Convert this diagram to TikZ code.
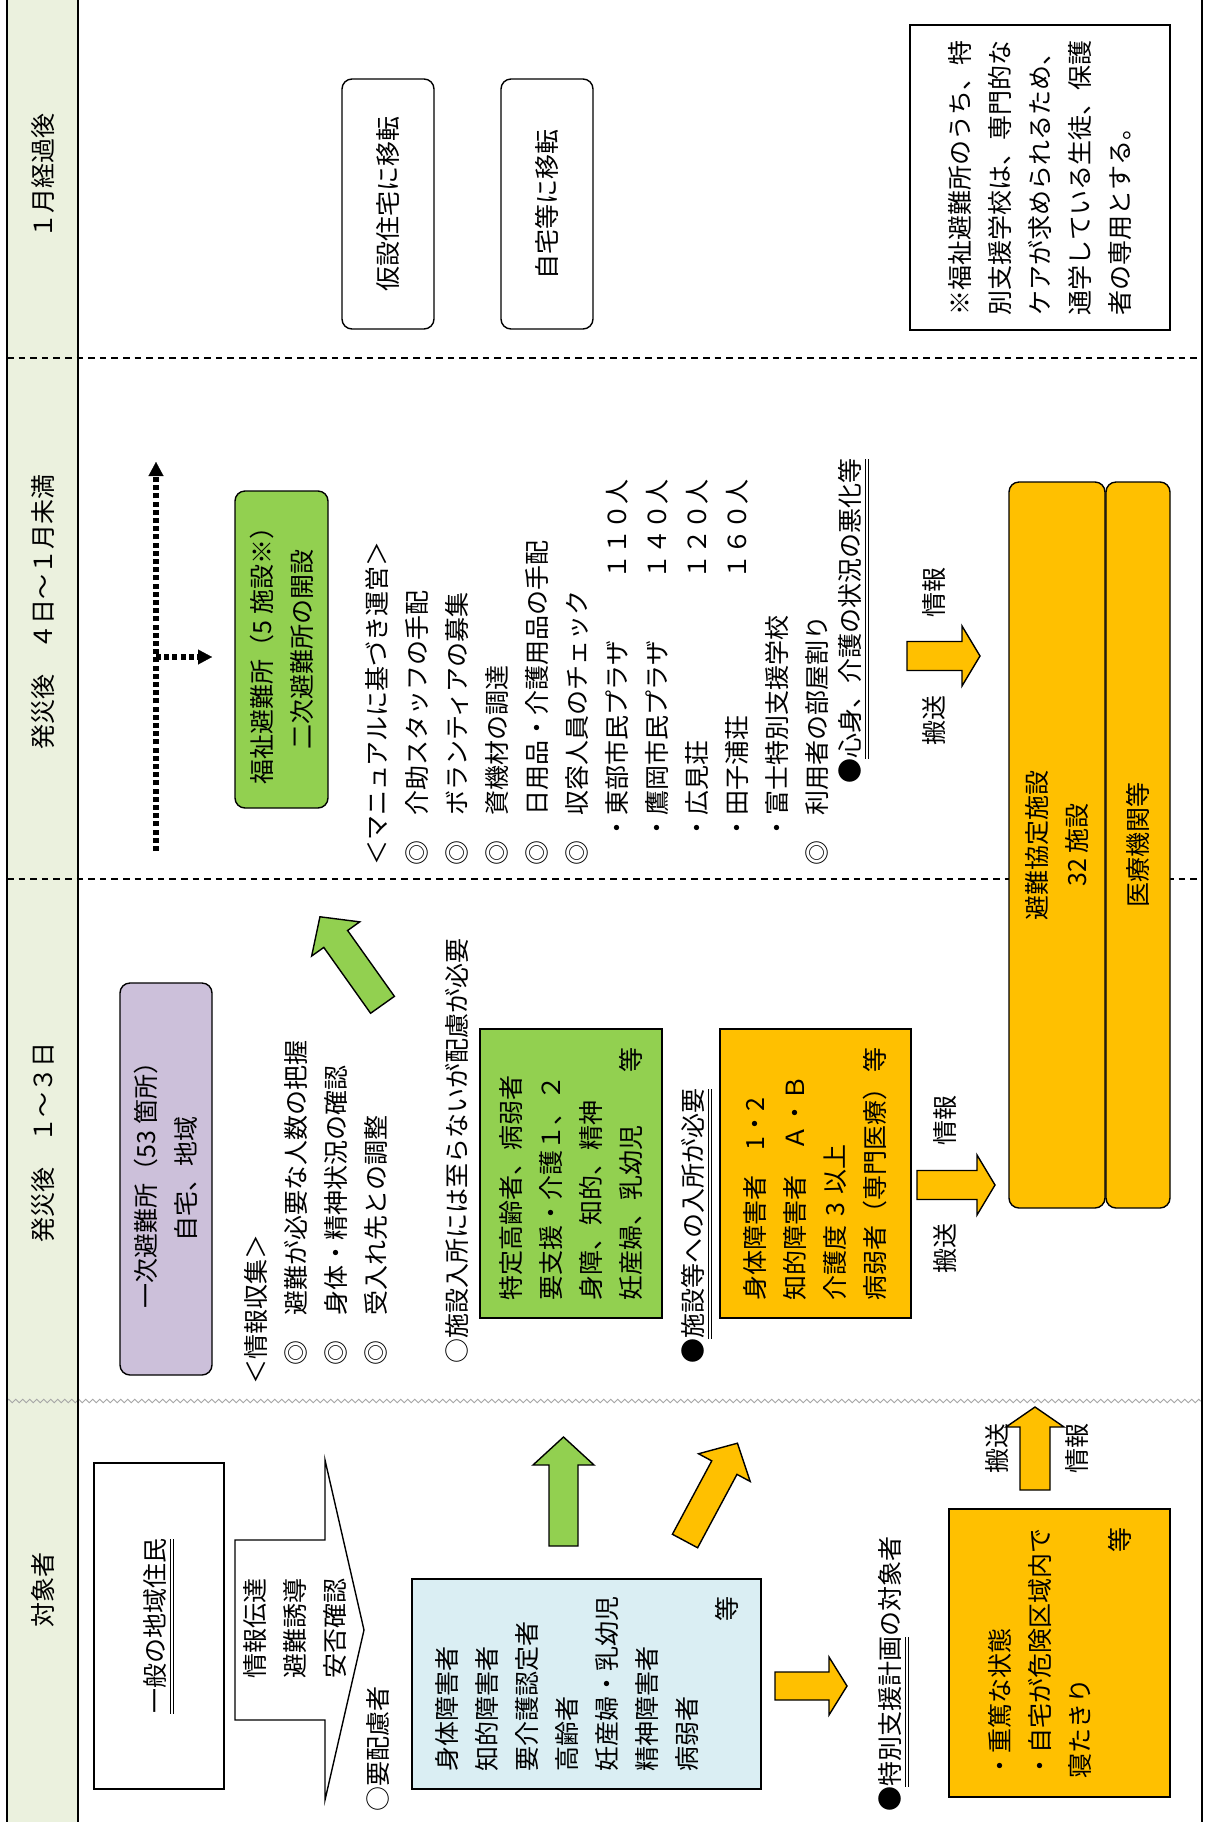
\documentclass[tikz,border=0pt]{standalone}
\usepackage{fontspec}
\setmainfont{Noto Sans CJK JP}
\usetikzlibrary{arrows.meta,decorations.pathmorphing}
\definecolor{hdr}{HTML}{EBF1DE}
\definecolor{purp}{HTML}{CCC0DA}
\definecolor{grn}{HTML}{92D050}
\definecolor{org}{HTML}{FFC000}
\definecolor{lblue}{HTML}{DAEEF3}
\newcommand{\fs}{\fontsize{12.5pt}{20pt}\selectfont}
\newcommand{\dul}[1]{\setbox0=\hbox{#1}\rlap{\vrule height -2.4pt depth 3.0pt width \wd0}\rlap{\vrule height -4.0pt depth 4.6pt width \wd0}\box0}
\newcommand{\blkarrow}[7]{%
  \begin{scope}[shift={#1}, rotate=#2]
    \draw[#7] (0,-#4) -- ({#3-#6},-#4) -- ({#3-#6},-#5) -- (#3,0) -- ({#3-#6},#5) -- ({#3-#6},#4) -- (0,#4) -- cycle;
  \end{scope}}
\tikzset{
  vt/.style={rotate=90, inner sep=0pt, font=\fs},
  bx/.style={draw=black, line width=0.7pt, rotate=90, inner sep=0pt, font=\fs},
  rbx/.style={bx, rounded corners=5pt},
  arw/.style={draw=black, line width=0.7pt, line join=miter},
  frameln/.style={line width=0.7pt},
  dashsep/.style={line width=0.7pt, dash pattern=on 3.3pt off 2.5pt},
  wavy/.style={gray!70, line width=0.45pt, decorate, decoration={zigzag, segment length=3.5pt, amplitude=0.9pt}},
  dotln/.style={line width=2.8pt, dash pattern=on 2.5pt off 1.6pt, line cap=butt},
}
\begin{document}
\begin{tikzpicture}[x=0.5pt, y=-0.5pt]
\useasboundingbox (0,0) rectangle (1205,1822);
\fill[white] (0,0) rectangle (1205,1822);
% header column and frame
\fill[hdr] (7,0) rectangle (78,1822);
\draw[dashsep] (7,358) -- (1202,358);
\draw[dashsep] (7,879) -- (1202,879);
\draw[wavy] (7,1401) -- (1202,1401);
\draw[frameln] (7,0) -- (7,1822);
\draw[frameln] (78,0) -- (78,1822);
\draw[frameln] (1202,0) -- (1202,1822);
\node[vt] (h1) at (43,176) {１月経過後};
\node[vt] (h2) at (43,612) {発災後　４日～１月未満};
\node[vt] (h3) at (43,1142) {発災後　１～３日};
\node[vt] (h4) at (43,1590) {対象者};

% ---- 対象者 section
\node[bx, fill=white, minimum width=163pt, minimum height=65pt] (gen) at (159,1626) {\dul{一般の地域住民}};
\draw[arw, fill=white] (235,1540) -- (325,1540) -- (325,1460) -- (364,1630) -- (325,1800) -- (325,1720) -- (235,1720) -- cycle;
\node[vt, align=center] (infotxt) at (295,1628) {情報伝達\\避難誘導\\安否確認};
\node[vt, anchor=west] (req) at (378,1812) {○要配慮者};
\node[bx, fill=lblue, minimum width=105pt, minimum height=174.5pt, text width=87.5pt, align=left] (blue) at (586.5,1684) {身体障害者\\知的障害者\\要介護認定者\\高齢者\\妊産婦・乳幼児\\精神障害者\\病弱者\\\makebox[\linewidth][r]{等}};
\blkarrow{(563.5,1546)}{90}{109}{14.5}{30.5}{28}{arw, fill=grn}
\blkarrow{(685,1541)}{61.8}{111}{14.3}{29.3}{27.7}{arw, fill=org}
\blkarrow{(775,1686)}{0}{72}{14}{29}{18}{arw, fill=org}
\node[vt, anchor=west] (spl) at (894,1812) {●\dul{特別支援計画}の対象者};
\node[bx, fill=org, minimum width=144pt, minimum height=110.5pt, text width=125.5pt, align=left] (heavy) at (1059.5,1653) {・重篤な状態\\・自宅が危険区域内で\\寝たきり\\\makebox[\linewidth][r]{等}};
\blkarrow{(1035,1490)}{90}{83}{15}{29}{20}{arw, fill=org}
\node[vt] (hs1) at (997,1448) {搬送};
\node[vt] (jh1) at (1077,1448) {情報};

% ---- 発災後 1~3日
\node[rbx, fill=purp, minimum width=196pt, minimum height=46pt, align=center] (prim) at (166,1179) {一次避難所（53 箇所）\\自宅、地域};
\node[vt, align=left, anchor=north west] (collect) at (244.5,1385) {＜情報収集＞\\\hspace*{9.5pt}◎　避難が必要な人数の把握\\\hspace*{9.5pt}◎　身体・精神状況の確認\\\hspace*{9.5pt}◎　受入れ先との調整};
\blkarrow{(382.5,1004.8)}{125.4}{108}{14.6}{29.5}{27.2}{arw, fill=grn}
\node[vt, anchor=west] (care) at (457,1364) {○施設入所には至らないが配慮が必要};
\node[bx, fill=grn, minimum width=144.5pt, minimum height=91pt, text width=126.5pt, align=left] (gbox) at (571,1173.5) {特定高齢者、病弱者\\要支援・介護１、２\\身障、知的、精神\\\makebox[\linewidth][l]{妊産婦、乳幼児\hfill 等}};
\node[vt, anchor=west] (fac) at (697,1364) {●\dul{施設等への入所が必要}};
\node[bx, fill=org, minimum width=144.5pt, minimum height=95.5pt, text width=126.5pt, align=left] (obox) at (815.5,1173.5) {身体障害者　1・2\\知的障害者　Ａ・Ｂ\\介護度 3 以上\\\makebox[\linewidth][l]{病弱者（専門医療）\hfill 等}};
\blkarrow{(917,1185)}{0}{78}{14.5}{30}{18}{arw, fill=org}
\node[vt] (jh2) at (945,1120) {情報};
\node[vt] (hs2) at (945,1248) {搬送};
\node[rbx, fill=org, minimum width=363pt, minimum height=48pt, align=center] (kyotei) at (1057,845) {避難協定施設\\32 施設};
\node[rbx, fill=org, minimum width=363pt, minimum height=32pt] (iryo) at (1138,845) {医療機関等};

% ---- 発災後 4日~1月未満
\coordinate (d1) at (156,851);
\coordinate (d2) at (156,462);
\coordinate (d3) at (156,657);
\coordinate (d4) at (212,657);
\draw[dotln, -{Triangle[length=7pt,width=7.5pt,line width=0.1pt]}] (d1) -- (d2);
\draw[dotln, -{Triangle[length=7pt,width=7.5pt,line width=0.1pt]}] (d3) -- (d4);
\node[rbx, fill=grn, minimum width=158.5pt, minimum height=46.5pt, align=center] (fuku) at (281.5,649.5) {福祉避難所（5 施設※）\\二次避難所の開設};
\node[vt, align=left, anchor=north west] (manual) at (365.5,866) {＜マニュアルに基づき運営＞\\◎　介助スタッフの手配\\◎　ボランティアの募集\\◎　資機材の調達\\◎　日用品・介護用品の手配\\◎　収容人員のチェック\\\hspace*{12.5pt}\makebox[130.5pt][l]{・東部市民プラザ}１１０人\\\hspace*{12.5pt}\makebox[130.5pt][l]{・鷹岡市民プラザ}１４０人\\\hspace*{12.5pt}\makebox[130.5pt][l]{・広見荘}１２０人\\\hspace*{12.5pt}\makebox[130.5pt][l]{・田子浦荘}１６０人\\\hspace*{12.5pt}・富士特別支援学校\\◎　利用者の部屋割り};
\node[vt, anchor=west] (worse) at (854,784) {●\dul{心身、介護の状況の悪化等}};
\blkarrow{(907,656)}{0}{73}{14.5}{30}{18}{arw, fill=org}
\node[vt] (jh3) at (934,592) {情報};
\node[vt] (hs3) at (934,720) {搬送};

% ---- 1月経過後
\node[rbx, fill=white, minimum width=125pt, minimum height=46pt] (kasetsu) at (388,204) {仮設住宅に移転};
\node[rbx, fill=white, minimum width=125pt, minimum height=46pt] (jitaku) at (547,204) {自宅等に移転};
\node[bx, fill=white, minimum width=152.5pt, minimum height=130pt, text width=137.5pt, align=left] (note) at (1040,177.5) {※福祉避難所のうち、特\\別支援学校は、専門的な\\ケアが求められるため、\\通学している生徒、保護\\者の専用とする。};
\end{tikzpicture}
\end{document}
